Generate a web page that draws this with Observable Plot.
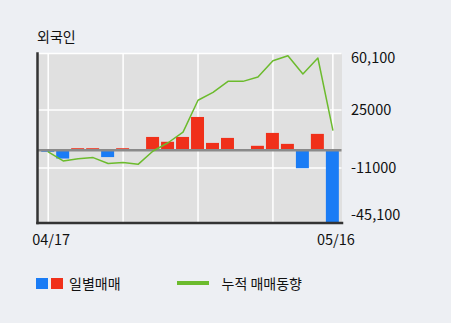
<!DOCTYPE html>
<html>
<head>
<meta charset="utf-8">
<script src="https://cdn.jsdelivr.net/npm/d3@7"></script>
<script src="https://cdn.jsdelivr.net/npm/@observablehq/plot@0.6"></script>
<style>
  html, body { margin: 0; padding: 0; background: #edeff3; }
  body { width: 451px; height: 323px; position: relative; overflow: hidden;
         font-family: "Noto Sans CJK KR", "Noto Sans", sans-serif; color: #111; }
  #chart { position: absolute; left: 0; top: 0; }
  .title { position: absolute; left: 37px; top: 27px; font-size: 14px; line-height: 18px; }
  .legend { position: absolute; left: 36px; top: 274px; font-size: 14px; line-height: 18px; display: flex; align-items: center; }
  .sw { display: inline-block; width: 12px; height: 11px; }
  .ln { display: inline-block; width: 32px; height: 4px; background: #6cbb2d; }
</style>
</head>
<body>
<div id="chart"></div>
<div class="title">외국인</div>
<div class="legend">
  <span class="sw" style="background:#1a7cf5"></span>
  <span class="sw" style="background:#f0301a;margin-left:3px"></span>
  <span style="margin-left:6px">일별매매</span>
  <span class="ln" style="margin-left:56px"></span>
  <span style="margin-left:13px">누적 매매동향</span>
</div>
<script>
const dates = ["04/17","04/18","04/19","04/22","04/23","04/24","04/25","04/26","04/29","04/30",
               "05/02","05/03","05/07","05/08","05/09","05/10","05/13","05/14","05/15","05/16"];
const daily = [-1200, -5400, 1000, 1000, -4500, 1000, 0, 8000, 5000, 8000,
               20400, 4300, 7400, 0, 2500, 10500, 3700, -11400, 9900, -44800];
const cumulative = [-1000, -6600, -5200, -4500, -8200, -7600, -8700, -400, 4700, 11300,
                    31100, 36000, 42800, 42800, 45500, 55600, 58700, 47400, 57300, 12600];
const yTicks = [60100, 25000, -11000, -45100];
const yTickLabels = ["60,100", "25000", "-11000", "-45,100"];
const xGrid = [0, 5, 10, 15, 19];
const xLabels = [0, 19];

const bars = daily.map((v, i) => ({i, v}));
const line = cumulative.map((v, i) => ({i, v}));
const lab = new Map(yTicks.map((t, k) => [t, yTickLabels[k]]));

const chart = Plot.plot({
  width: 451,
  height: 323,
  marginLeft: 37,
  marginRight: 109.5,
  marginTop: 53,
  marginBottom: 100.5,
  style: {background: "transparent", fontFamily: "'Noto Sans CJK KR', sans-serif", fontSize: "14.5px", color: "#111"},
  x: {domain: [-0.714, 19.61], axis: null},
  y: {domain: [-45100, 60100], axis: null},
  marks: [
    Plot.frame({fill: "#e0e0e0", stroke: null}),
    Plot.ruleY(yTicks, {stroke: "#fff", strokeWidth: 1.5}),
    Plot.ruleX(xGrid, {stroke: "#fff", strokeWidth: 1.5}),
    Plot.rectY(bars, {x1: d => d.i - 0.433, x2: d => d.i + 0.433, y1: 0, y2: "v",
      fill: d => d.v < 0 ? "#1a7cf5" : "#f0301a"}),
    Plot.ruleY([0], {stroke: "#8a8a8a", strokeWidth: 2.5}),
    Plot.line(line, {x: "i", y: "v", stroke: "#6cbb2d", strokeWidth: 1.5}),
    Plot.frame({anchor: "left", stroke: "#333", strokeWidth: 2.5}),
    Plot.frame({anchor: "bottom", stroke: "#333", strokeWidth: 2.5}),
    Plot.axisY([60100], {anchor: "right", label: null, tickSize: 0, tickPadding: 9, dy: 5, tickFormat: t => lab.get(t)}),
    Plot.axisY([25000, -11000], {anchor: "right", label: null, tickSize: 0, tickPadding: 9, tickFormat: t => lab.get(t)}),
    Plot.axisY([-45100], {anchor: "right", label: null, tickSize: 0, tickPadding: 9, dy: -8, tickFormat: t => lab.get(t)}),
    Plot.axisX(xLabels, {anchor: "bottom", label: null, tickSize: 0, tickPadding: 12, dx: 3, tickFormat: i => dates[i]})
  ]
});
document.getElementById("chart").appendChild(chart);
</script>
</body>
</html>
